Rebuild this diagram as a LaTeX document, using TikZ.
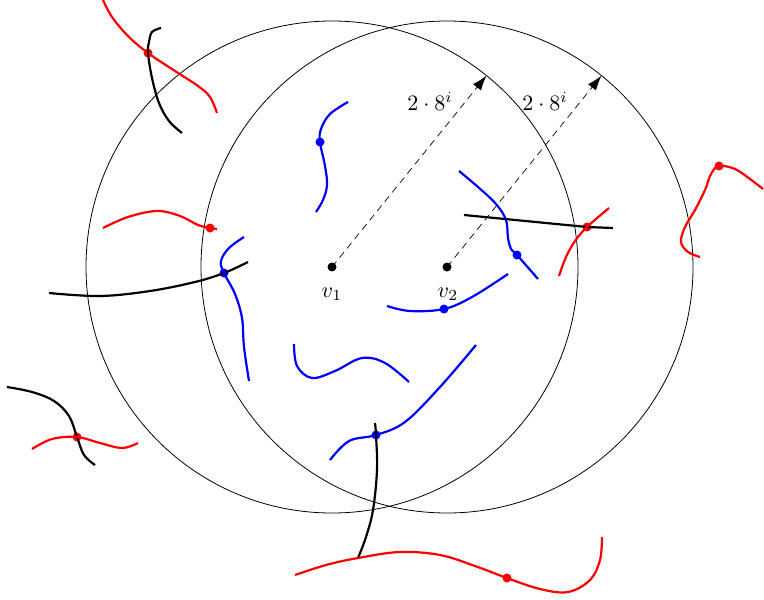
\documentclass[tikz,border=0pt]{standalone}
\usetikzlibrary{arrows.meta}
\begin{document}
\begin{tikzpicture}[x=1pt,y=-1pt,
  curve/.style={line width=2.2pt,line join=round},
  rc/.style={curve,red},
  bc/.style={curve,blue},
  kc/.style={curve,black},
  dotnode/.style={circle,inner sep=0pt,minimum size=9pt},
  rdot/.style={dotnode,fill=red},
  bdot/.style={dotnode,fill=blue},
  kdot/.style={dotnode,fill=black},
  ring/.style={line width=0.8pt},
  radius arrow/.style={line width=0.7pt,dash pattern=on 7pt off 5pt,-{Latex[length=15pt,width=10pt]}},
  lbl/.style={scale=2.2,inner sep=1pt}
]
\useasboundingbox (0,0) rectangle (764,600);

% centres
\node[kdot] (v1) at (332,267) {};
\node[kdot] (v2) at (447,267) {};
\node[lbl] (l1) at (332,294) {$v_1$};
\node[lbl] (l2) at (448,294) {$v_2$};

% circles
\draw[ring] (v1.center) circle[radius=246];
\draw[ring] (v2.center) circle[radius=246];

% radius arrows
\coordinate (a1) at (486.5,75.6);
\coordinate (a2) at (601.5,75.6);
\draw[radius arrow] (v1.center) -- (a1);
\draw[radius arrow] (v2.center) -- (a2);
\node[lbl] (t1) at (430,101) {$2\cdot 8^i$};
\node[lbl] (t2) at (545,101) {$2\cdot 8^i$};

% dots
\node[rdot] (r1) at (148,53) {};
\node[rdot] (r2) at (210,228) {};
\node[bdot] (b1) at (224,273) {};
\node[rdot] (r3) at (77,437) {};
\node[bdot] (b2) at (320,142) {};
\node[bdot] (b3) at (517,255) {};
\node[rdot] (r4) at (587,227) {};
\node[rdot] (r5) at (719,166) {};
\node[bdot] (b4) at (444,309) {};
\node[bdot] (b5) at (376,435) {};
\node[rdot] (r6) at (507,578) {};
\coordinate (j1) at (358,558);

\tikzset{sm/.style={smooth,tension=0.6}}

% top-left
\draw[rc] plot[sm] coordinates {(103,0) (112,17) (128,36) (r1.center) (175,71) (198,86) (210,97) (217,113)};
\draw[kc] plot[sm] coordinates {(161,28) (152,32) (149,42) (r1.center) (152,78) (159,103) (169,121) (182,133)};

% left
\draw[rc] plot[sm] coordinates {(103,228) (128,217) (157,211) (180,216) (198,225) (r2.center) (217,229)};
\draw[kc] plot[sm] coordinates {(49,293) (100,296) (150,291) (195,282) (b1.center) (248,262)};
\draw[bc] plot[sm] coordinates {(244,237) (229,248) (221,261) (b1.center) (235,294) (242,318) (244,347) (249,381)};

% bottom-left
\draw[kc] plot[sm] coordinates {(7,387) (32,392) (54,401) (69,416) (r3.center) (84,455) (95,465)};
\draw[rc] plot[sm] coordinates {(32,449) (52,439) (r3.center) (100,443) (122,448) (138,443)};

% inner
\draw[bc] plot[sm] coordinates {(348,102) (330,114) (321,129) (b2.center) (325,166) (327,185) (323,200) (316,212)};
\draw[bc] plot[sm] coordinates {(459,171) (478,187) (496,204) (506,220) (508,238) (511,249) (b3.center) (538,279)};
\draw[kc] (464,215) -- (r4.center) -- (613,228);
\draw[rc] plot[sm] coordinates {(559,276) (566,257) (575,241) (r4.center) (609,208)};
\draw[rc] plot[sm] coordinates {(700,257) (688,252) (681,242) (685,227) (695,210) (705,190) (711,174) (r5.center) (735,169) (750,179) (763,189)};
\draw[bc] plot[sm] coordinates {(387,306) (410,311) (b4.center) (472,297) (508,274)};
\draw[bc] plot[sm] coordinates {(294,344) (297,366) (312,378) (335,371) (362,358) (385,363) (409,382)};
\draw[bc] plot[sm] coordinates {(330,460) (349,441) (b5.center) (405,422) (440,387) (476,345)};
\draw[kc] plot[sm] coordinates {(375,423) (b5.center) (377,470) (373,510) (366,537) (j1)};
\draw[rc] plot[sm] coordinates {(295,575) (326,565) (j1) (400,552) (440,555) (475,566) (r6.center) (540,589) (568,592) (590,580) (600,560) (602,537)};
\end{tikzpicture}
\end{document}
